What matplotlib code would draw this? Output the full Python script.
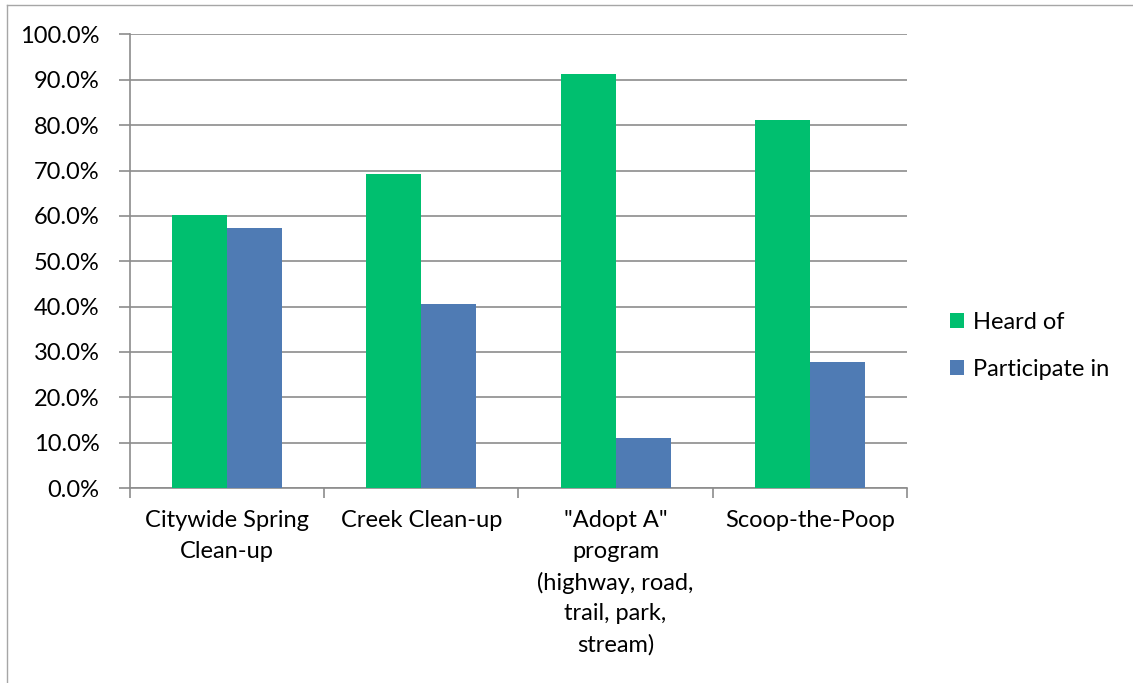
import matplotlib
matplotlib.use("Agg")
from matplotlib import pyplot as plt
from matplotlib.lines import Line2D
from matplotlib.ticker import FuncFormatter
import numpy as np

# data
categories = ["Citywide Spring\nClean-up", "Creek Clean-up",
              "\"Adopt A\"\nprogram\n(highway, road,\ntrail, park,\nstream)",
              "Scoop-the-Poop"]
heard_of = [60.1, 69.3, 91.3, 81.1]
participate_in = [57.4, 40.6, 11.0, 27.8]
series_names = ["Heard of", "Participate in"]
colors = ["#00BF6F", "#4F7BB4"]

plt.rcParams['font.family'] = ['Lato', 'DejaVu Sans']

fig = plt.figure(figsize=(11.33, 6.83), dpi=100)
ax = fig.add_axes([0.1147, 0.2855, 0.6858, 0.664])

x = np.arange(len(categories))
w = 0.283
ax.bar(x - w / 2, heard_of, w, color=colors[0], label=series_names[0], zorder=3)
ax.bar(x + w / 2, participate_in, w, color=colors[1], label=series_names[1], zorder=3)

ax.set_xlim(-0.5, len(categories) - 0.5)
ax.set_ylim(0, 100)
ax.set_yticks(np.arange(0, 101, 10))
ax.yaxis.set_major_formatter(FuncFormatter(lambda v, p: "%.1f%%" % v))
ax.yaxis.grid(True, color="#8C8C8C", linewidth=1.2, zorder=0)

# category labels centred, ticks between categories
ax.set_xticks(np.arange(-0.5, len(categories), 1.0))
ax.set_xticklabels([])
ax.set_xticks(x, minor=True)
ax.set_xticklabels(categories, minor=True, fontsize=17, linespacing=1.55, va="top")
ax.tick_params(axis="x", which="minor", length=0, pad=16)
ax.tick_params(axis="x", which="major", length=7, width=1.2, color="#8C8C8C")
ax.tick_params(axis="y", length=8, width=1.2, color="#8C8C8C", labelsize=17, pad=14)

for s in ["top", "right"]:
    ax.spines[s].set_visible(False)
for s in ["left", "bottom"]:
    ax.spines[s].set_color("#8C8C8C")
    ax.spines[s].set_linewidth(1.2)

leg = fig.legend(loc="center left", bbox_to_anchor=(0.820, 0.4935), frameon=False,
                 fontsize=17, handlelength=0.6, handleheight=0.6, handletextpad=0.38,
                 labelspacing=1.12)

# chart area border (only left and top edges visible)
fig.add_artist(Line2D([0.0062, 0.0062], [0, 0.993], transform=fig.transFigure,
                      color="#A6A6A6", linewidth=1))
fig.add_artist(Line2D([0.0062, 1.0], [0.993, 0.993], transform=fig.transFigure,
                      color="#A6A6A6", linewidth=1))

fig.savefig("out.png", dpi=100)
